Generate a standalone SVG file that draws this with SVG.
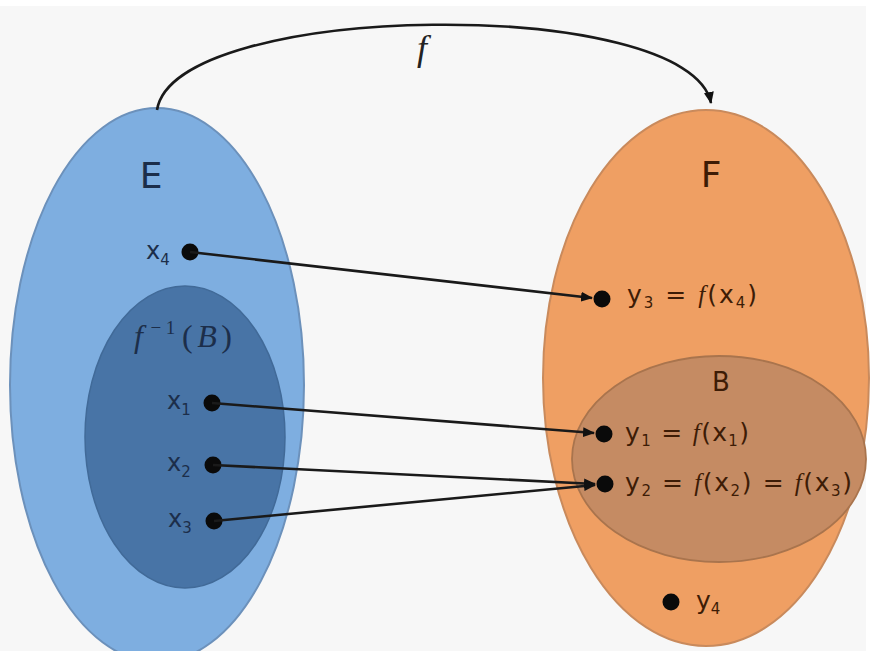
<svg xmlns="http://www.w3.org/2000/svg" width="871" height="651" viewBox="0 0 871 651">
  <defs>
    <marker id="arr" markerUnits="userSpaceOnUse" markerWidth="12" markerHeight="10" refX="11" refY="5" orient="auto">
      <path d="M0,0 L12,5 L0,10 z" fill="#111"/>
    </marker>
    <style>
      .lbl { font-family: "DejaVu Sans", "Liberation Sans", sans-serif; }
      .lblE { fill: #1c2e4a; }
      .lblF { fill: #3d1c06; }
      .math { font-family: "Liberation Serif", "DejaVu Serif", serif; font-style: italic; }
      .dot { fill: #0a0a0a; }
      .conn { stroke: #1a1a1a; stroke-width: 2.6; fill: none; }
    </style>
  </defs>

  <rect x="0" y="0" width="871" height="651" fill="#ffffff"/>
  <rect x="0" y="6" width="866" height="645" fill="#f7f7f7"/>

  <g id="set-E">
    <ellipse cx="157" cy="385" rx="147" ry="277" fill="#7eaee0" stroke="#6c91bb" stroke-width="2"/>
    <text class="lbl lblE" x="151" y="188" font-size="36" text-anchor="middle">E</text>
  </g>

  <g id="preimage-B">
    <ellipse cx="185" cy="437" rx="100" ry="151" fill="#4874a6" stroke="#416a98" stroke-width="1.5"/>
    <text class="math lblE" x="134" y="347" font-size="32" textLength="98" lengthAdjust="spacing">f<tspan font-style="normal" font-size="19" dy="-13" dx="3">−1</tspan><tspan font-style="normal" dy="13" dx="2">(</tspan>B<tspan font-style="normal">)</tspan></text>
  </g>

  <g id="set-F">
    <ellipse cx="706" cy="378" rx="163" ry="268" fill="#ef9f63" stroke="#c98a5c" stroke-width="2"/>
    <text class="lbl lblF" x="711" y="187" font-size="36" text-anchor="middle">F</text>
  </g>

  <g id="set-B">
    <ellipse cx="719" cy="459" rx="147" ry="103" fill="#c58b63" stroke="#a9744d" stroke-width="1.8"/>
    <text class="lbl lblF" x="721" y="391" font-size="26" text-anchor="middle">B</text>
  </g>

  <g id="x4">
    <circle class="dot" cx="190" cy="252" r="8.5"/>
    <text class="lbl lblE" x="146" y="259" font-size="24">x<tspan font-size="15" dy="6">4</tspan></text>
  </g>
  <g id="x1">
    <circle class="dot" cx="212" cy="403" r="8.5"/>
    <text class="lbl lblE" x="167" y="409" font-size="24">x<tspan font-size="15" dy="6">1</tspan></text>
  </g>
  <g id="x2">
    <circle class="dot" cx="213" cy="465" r="8.5"/>
    <text class="lbl lblE" x="167" y="471" font-size="24">x<tspan font-size="15" dy="6">2</tspan></text>
  </g>
  <g id="x3">
    <circle class="dot" cx="214" cy="521" r="8.5"/>
    <text class="lbl lblE" x="168" y="527" font-size="24">x<tspan font-size="15" dy="6">3</tspan></text>
  </g>

  <g id="y3">
    <circle class="dot" cx="602" cy="299" r="8.5"/>
    <text class="lbl lblF" x="627" y="303" font-size="25" textLength="130" lengthAdjust="spacing">y<tspan font-size="15" dy="5">3</tspan><tspan dy="-5"> = </tspan><tspan class="math">f</tspan>(x<tspan font-size="15" dy="5">4</tspan><tspan dy="-5">)</tspan></text>
  </g>
  <g id="y1">
    <circle class="dot" cx="604" cy="434" r="8.5"/>
    <text class="lbl lblF" x="625" y="441" font-size="25" textLength="124" lengthAdjust="spacing">y<tspan font-size="15" dy="5">1</tspan><tspan dy="-5"> = </tspan><tspan class="math">f</tspan>(x<tspan font-size="15" dy="5">1</tspan><tspan dy="-5">)</tspan></text>
  </g>
  <g id="y2">
    <circle class="dot" cx="605" cy="484" r="8.5"/>
    <text class="lbl lblF" x="625" y="491" font-size="25" textLength="227" lengthAdjust="spacing">y<tspan font-size="15" dy="5">2</tspan><tspan dy="-5"> = </tspan><tspan class="math">f</tspan>(x<tspan font-size="15" dy="5">2</tspan><tspan dy="-5">) = </tspan><tspan class="math">f</tspan>(x<tspan font-size="15" dy="5">3</tspan><tspan dy="-5">)</tspan></text>
  </g>
  <g id="y4">
    <circle class="dot" cx="671" cy="602" r="8.5"/>
    <text class="lbl lblF" x="696" y="609" font-size="25">y<tspan font-size="15" dy="5">4</tspan></text>
  </g>

  <g id="connectors">
    <path class="conn" d="M157,110 C175,0 690,-5 711,103" stroke-width="3" marker-end="url(#arr)"/>
    <text class="math" x="422" y="60" font-size="36" fill="#222" text-anchor="middle">f</text>
    <line class="conn" x1="190" y1="252" x2="592" y2="298" marker-end="url(#arr)"/>
    <line class="conn" x1="212" y1="403" x2="594" y2="433" marker-end="url(#arr)"/>
    <line class="conn" x1="213" y1="465" x2="595" y2="484" marker-end="url(#arr)"/>
    <line class="conn" x1="214" y1="521" x2="595" y2="485" marker-end="url(#arr)"/>
  </g>
</svg>
